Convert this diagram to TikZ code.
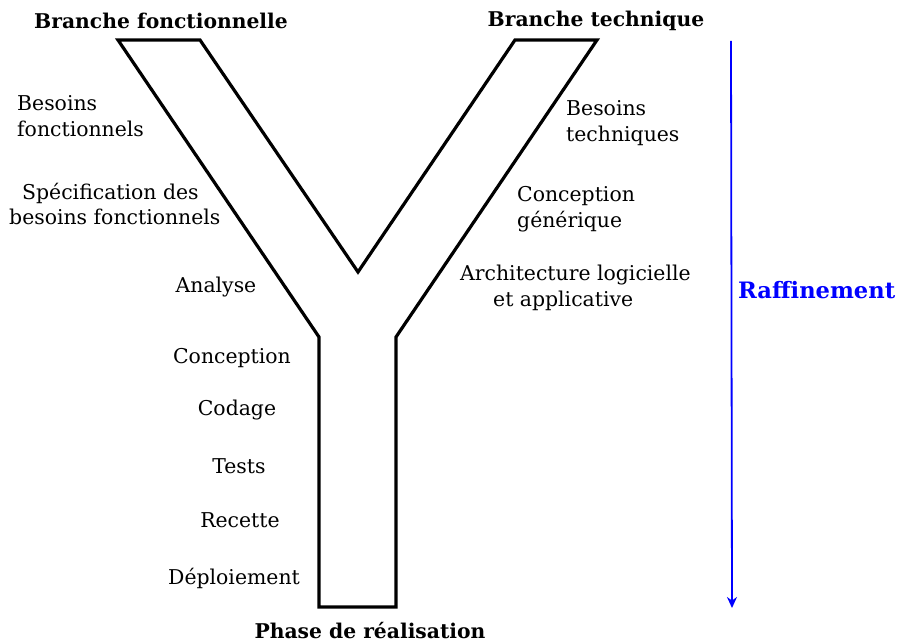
\documentclass[tikz,border=0pt]{standalone}
\usepackage{fontspec}
\setmainfont{DejaVu Serif}
\usetikzlibrary{arrows.meta}
\begin{document}
\begin{tikzpicture}[x=1pt,y=-1pt,
  lbl/.style={font=\fontsize{20.4}{25.5}\selectfont, inner sep=0pt, align=center},
  lbll/.style={font=\fontsize{20.4}{25.5}\selectfont, inner sep=0pt, align=left, anchor=west},
  ttl/.style={font=\fontsize{20.3}{25}\selectfont\bfseries, inner sep=0pt},
  yshape/.style={draw=black, line width=3.2pt, line join=miter},
  refine/.style={draw=blue, line width=1.8pt, -{Stealth[length=11pt,width=10pt]}}]
\useasboundingbox (0,0) rectangle (898,644);
\draw[yshape] (118,40) -- (200,40) -- (358,272) -- (515,40) -- (597,40) -- (396,337) -- (396,607) -- (319,607) -- (319,337) -- cycle;
\node[ttl] (bf) at (161,21) {Branche fonctionnelle};
\node[ttl] (bt) at (596,21) {Branche technique};
\node[ttl] (pr) at (370,631) {Phase de réalisation};
\node[lbll] (besf) at (17,116) {Besoins\\fonctionnels};
\node[lbll] (spec) at (9,204) {\hspace{13pt}Spécification des\\besoins fonctionnels};
\node[lbl] (ana) at (216,287) {Analyse};
\node[lbll] (best) at (566,123) {Besoins\\techniques};
\node[lbll] (cg) at (517,209) {Conception\\générique};
\node[lbll] (arch) at (460,288) {Architecture logicielle\\\hspace{33pt}et applicative};
\node[lbl] (conc) at (232,358) {Conception};
\node[lbl] (cod) at (237,410) {Codage};
\node[lbl] (tst) at (239,466) {Tests};
\node[lbl] (rec) at (240,520) {Recette};
\node[lbl] (dep) at (234,578) {Déploiement};
\coordinate (a1) at (731,41);
\coordinate (a2) at (732,608);
\draw[refine] (a1) -- (a2);
\node[ttl, text=blue, anchor=west, font=\fontsize{22.6}{25}\selectfont\bfseries] (raf) at (738,290) {Raffinement};
\end{tikzpicture}
\end{document}
